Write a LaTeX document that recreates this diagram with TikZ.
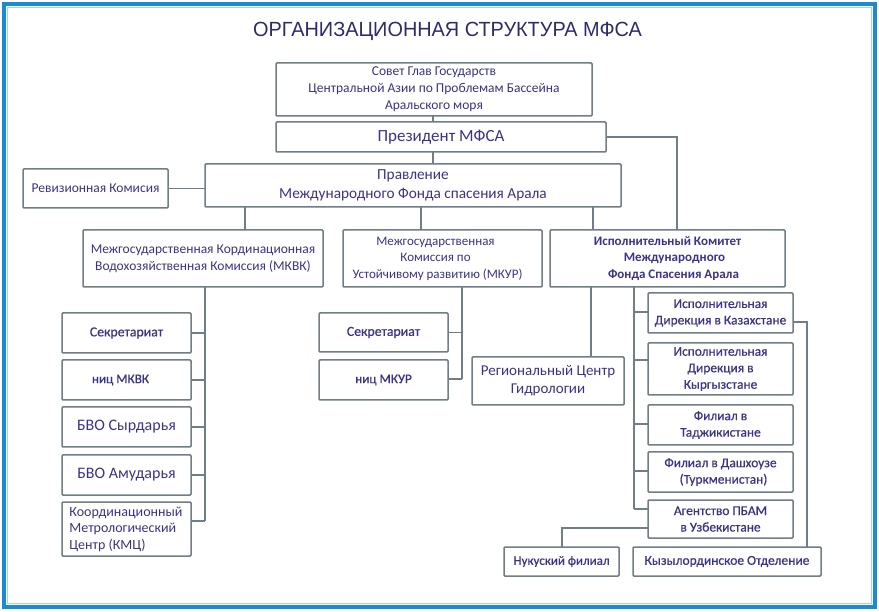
\documentclass[tikz,border=0pt]{standalone}
\usepackage{fontspec}
\usetikzlibrary{calc}
\setmainfont{Carlito}
\newfontfamily\semib[FakeBold=0.6]{Carlito}
\newfontfamily\titlefont[FakeStretch=0.97]{Liberation Sans}
\definecolor{txt}{HTML}{3B3486}
\definecolor{ttl}{HTML}{2D2A6E}
\definecolor{ln}{HTML}{6F7F85}
\definecolor{frameblue}{HTML}{1B8AD1}
\definecolor{framelight}{HTML}{9AD6F7}
\begin{document}
\begin{tikzpicture}[x=1pt,y=-1pt,
  box/.style={draw=ln, line width=1.5pt, rounded corners=1pt, fill=white, inner sep=0pt, outer sep=0pt, align=center, text=txt},
  conn/.style={draw=ln, line width=1.5pt}]
\useasboundingbox (0,0) rectangle (879,612);
\fill[white] (0,0) rectangle (879,612);
\draw[frameblue, line width=4pt] (4,4) rectangle (875,607);
\draw[framelight, line width=1.2pt] (7.5,7.5) rectangle (871.5,603.5);

\node[text=ttl, inner sep=0pt, anchor=base] (title) at (447.5,37) {\titlefont\fontsize{20.5}{24}\selectfont ОРГАНИЗАЦИОННАЯ СТРУКТУРА МФСА};

\node[box, minimum width=316pt, minimum height=53pt, font=\fontsize{13.5}{17}\selectfont] (sovet) at (434,89.5) {Совет Глав Государств\\Центральной Азии по Проблемам Бассейна\\Аральского моря};
\node[box, minimum width=330pt, minimum height=30pt, font=\fontsize{17}{20}\selectfont] (pres) at (441,137) {Президент МФСА};
\node[box, minimum width=416pt, minimum height=43pt, font=\fontsize{15.3}{19}\selectfont] (prav) at (413,185.5) {Правление\\Международного Фонда спасения Арала};
\node[box, minimum width=145pt, minimum height=39pt, font=\fontsize{13.5}{17}\selectfont] (rev) at (95.5,188.5) {Ревизионная Комисия};

\node[box, minimum width=240pt, minimum height=57pt, font=\fontsize{13.5}{17}\selectfont] (mkvk) at (203,258.5) {Межгосударственная Кординационная\\Водохозяйственная Комиссия (МКВК)};
\node[box, minimum width=199pt, minimum height=57pt, font=\fontsize{13}{16.5}\selectfont] (mkur) at (442.5,258.5) {\hspace*{-14pt}Межгосударственная\\\hspace*{-14pt}Комиссия по\\\hspace*{-10pt}Устойчивому развитию (МКУР)};
\node[box, minimum width=235pt, minimum height=57pt, font=\fontsize{13}{16.5}\bfseries\selectfont] (ik) at (667.5,258.5) {Исполнительный Комитет\\\hspace*{14pt}Международного\\\hspace*{12pt}Фонда Спасения Арала};

% left group
\node[box, minimum width=129pt, minimum height=40pt, font=\semib\fontsize{13.8}{16}\selectfont] (s1) at (126.5,333) {Секретариат};
\node[box, minimum width=129pt, minimum height=40pt, font=\semib\fontsize{13.2}{16}\selectfont] (n1) at (126.5,380) {\hspace*{-12pt}ниц МКВК};
\node[box, minimum width=129pt, minimum height=40pt, font=\fontsize{16}{19}\selectfont] (b1) at (126.5,427) {БВО Сырдарья};
\node[box, minimum width=129pt, minimum height=40pt, font=\fontsize{16}{19}\selectfont] (b2) at (126.5,475) {БВО Амударья};
\node[box, minimum width=129pt, minimum height=54pt, font=\fontsize{14}{16.5}\selectfont, align=left] (kmc) at (126.5,529) {Координационный\\Метрологический\\Центр (КМЦ)\hspace*{38pt}};

% middle group
\node[box, minimum width=129pt, minimum height=39pt, font=\semib\fontsize{13.8}{16}\selectfont] (s2) at (383.5,332.5) {Секретариат};
\node[box, minimum width=129pt, minimum height=40pt, font=\semib\fontsize{13.2}{16}\selectfont] (n2) at (383.5,380) {ниц МКУР};
\node[box, minimum width=152pt, minimum height=48pt, font=\fontsize{15}{18}\selectfont] (reg) at (548,381) {Региональный Центр\\Гидрологии};

% right group
\node[box, minimum width=145pt, minimum height=40pt, font=\semib\fontsize{13.4}{16.5}\selectfont] (r1) at (720.5,313) {Исполнительная\\Дирекция в Казахстане};
\node[box, minimum width=145pt, minimum height=52pt, font=\semib\fontsize{13.4}{16.5}\selectfont] (r2) at (720.5,369) {Исполнительная\\Дирекция в\\Кыргызстане};
\node[box, minimum width=145pt, minimum height=40pt, font=\semib\fontsize{13.4}{16.5}\selectfont] (r3) at (720.5,425) {Филиал в\\Таджикистане};
\node[box, minimum width=145pt, minimum height=40pt, font=\semib\fontsize{13.4}{16.5}\selectfont] (r4) at (720.5,472) {Филиал в Дашхоузе\\\hspace*{6pt}(Туркменистан)};
\node[box, minimum width=145pt, minimum height=38pt, font=\semib\fontsize{13.4}{16.5}\selectfont] (r5) at (720.5,519) {Агентство ПБАМ\\в Узбекистане};
\node[box, minimum width=115pt, minimum height=29pt, font=\semib\fontsize{13}{16}\selectfont] (nuk) at (561.5,561.5) {Нукуский филиал};
\node[box, minimum width=188pt, minimum height=29pt, font=\semib\fontsize{13.5}{16}\selectfont] (kyz) at (727,561.5) {Кызылординское Отделение};

% junction coordinates
\coordinate (jA) at (433,0);
\coordinate (jPI) at (677,137);
\coordinate (jL) at (245,0);
\coordinate (jM) at (421,0);
\coordinate (jR) at (593,0);
\coordinate (tL) at (205,521);
\coordinate (tM) at (462,379);
\coordinate (jReg) at (591,0);
\coordinate (tR) at (634,509);
\coordinate (kzA) at (807,322);
\coordinate (nkA) at (562,528);

% top connectors
\draw[conn] (sovet.south -| jA) -- (pres.north -| jA);
\draw[conn] (pres.south -| jA) -- (prav.north -| jA);
\draw[conn] (pres.east |- jPI) -- (jPI) -- (ik.north -| jPI);
\draw[conn] (rev.east) -- (prav.west |- rev.east);
\draw[conn] (prav.south -| jL) -- (mkvk.north -| jL);
\draw[conn] (prav.south -| jM) -- (mkur.north -| jM);
\draw[conn] (prav.south -| jR) -- (ik.north -| jR);

% left trunk
\draw[conn] (mkvk.south -| tL) -- (tL);
\draw[conn] (s1.east) -- (s1.east -| tL);
\draw[conn] (n1.east) -- (n1.east -| tL);
\draw[conn] (b1.east) -- (b1.east -| tL);
\draw[conn] (b2.east) -- (b2.east -| tL);
\draw[conn] (kmc.east |- tL) -- (tL);

% middle trunk
\draw[conn] (mkur.south -| tM) -- (tM);
\draw[conn] (s2.east) -- (s2.east -| tM);
\draw[conn] (n2.east |- tM) -- (tM);
\draw[conn] (ik.south -| jReg) -- (reg.north -| jReg);

% right trunk
\draw[conn] (ik.south -| tR) -- (tR);
\draw[conn] ($(r1.west)+(0,-1)$) -- ($(r1.west -| tR)+(0,-1)$);
\draw[conn] ($(r2.west)+(0,-9)$) -- ($(r2.west -| tR)+(0,-9)$);
\draw[conn] ($(r3.west)+(0,-1)$) -- ($(r3.west -| tR)+(0,-1)$);
\draw[conn] ($(r4.west)+(0,-1)$) -- ($(r4.west -| tR)+(0,-1)$);
\draw[conn] (r5.west |- tR) -- (tR);
\draw[conn] (r1.east |- kzA) -- (kzA) -- (kyz.north -| kzA);
\draw[conn] (r5.west |- nkA) -- (nkA) -- (nuk.north -| nkA);
\end{tikzpicture}
\end{document}
